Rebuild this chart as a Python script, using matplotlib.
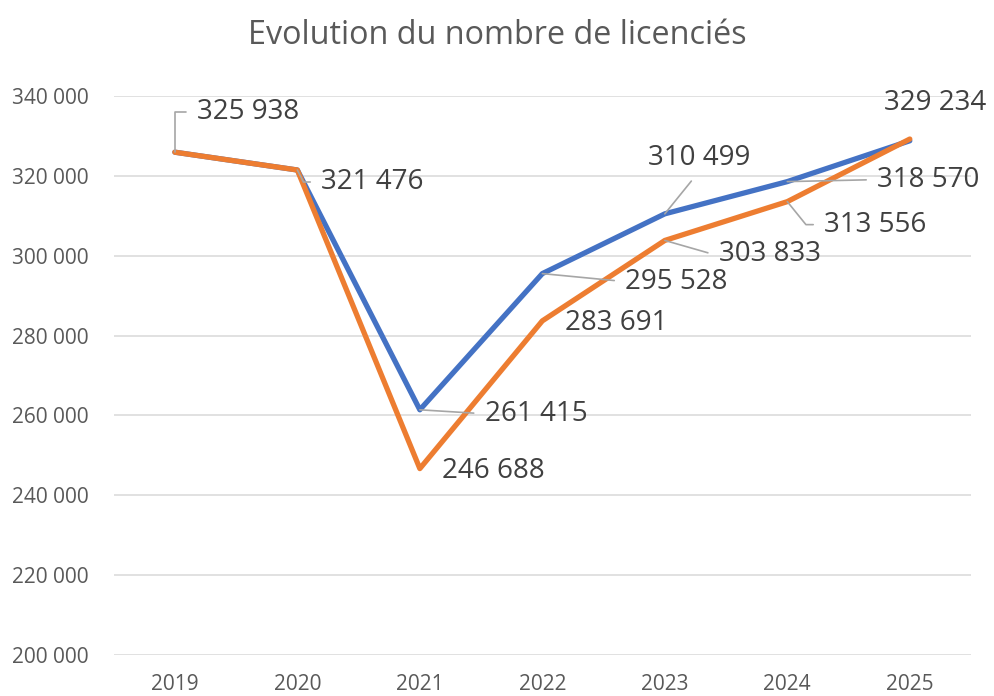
import matplotlib
matplotlib.use("Agg")
import matplotlib.pyplot as plt
from matplotlib.ticker import FuncFormatter

plt.rcParams['font.family'] = ['Open Sans', 'DejaVu Sans']

# data
years = ['2019', '2020', '2021', '2022', '2023', '2024', '2025']
serie_bleue = [325938, 321476, 261415, 295528, 310499, 318570, 328800]
serie_orange = [325938, 321476, 246688, 283691, 303833, 313556, 329234]

BLUE = '#4472C4'
ORANGE = '#ED7D31'
TEXT = '#595959'
LABEL = '#404040'
LEADER = '#A6A6A6'


def fmt_thousands(v, pos=None):
    return f"{int(round(v)):,}".replace(",", " ")


fig = plt.figure(figsize=(9.94, 6.96), dpi=100)
ax = fig.add_axes([0.1143, 0.0589, 0.8626, 0.8031])

x = range(len(years))
ax.plot(x, serie_bleue, color=BLUE, lw=3.8, solid_joinstyle='round', solid_capstyle='round', zorder=3)
ax.plot(x, serie_orange, color=ORANGE, lw=3.8, solid_joinstyle='round', solid_capstyle='round', zorder=4)

ax.set_xlim(-0.5, len(years) - 0.5)
ax.set_ylim(200000, 340000)
ax.set_yticks(range(200000, 340001, 20000))
ax.yaxis.set_major_formatter(FuncFormatter(fmt_thousands))
ax.set_xticks(list(x))
ax.set_xticklabels(years)
ax.grid(axis='y', color='#D9D9D9', lw=1.1)
ax.set_axisbelow(True)
for s in ax.spines.values():
    s.set_visible(False)
ax.tick_params(axis='y', length=0, pad=18, labelsize=15, labelcolor=TEXT)
ax.tick_params(axis='x', length=0, pad=14, labelsize=15, labelcolor=TEXT)

fig.suptitle("Evolution du nombre de licenciés", y=0.973, fontsize=23.3, color=TEXT)

# data labels: (series, index, offset px, ha, leader style)
labels = [
    (serie_orange, 0, (22, 40), 'left', 'angle,angleA=0,angleB=90'),
    (serie_orange, 1, (24, -12), 'left', 'angle,angleA=0,angleB=-63'),
    (serie_bleue, 2, (65, -4), 'left', 'arc3'),
    (serie_orange, 2, (22, -2), 'left', None),
    (serie_bleue, 3, (83, -8), 'left', 'arc3'),
    (serie_orange, 3, (23, -2), 'left', None),
    (serie_bleue, 4, (34, 56), 'center', 'arc3'),
    (serie_orange, 4, (54, -14), 'left', 'angle,angleA=0,angleB=-16'),
    (serie_bleue, 5, (90, 2), 'left', 'arc3'),
    (serie_orange, 5, (37, -23), 'left', 'angle,angleA=0,angleB=-51'),
    (serie_orange, 6, (25, 36), 'center', None),
]

for serie, i, off, ha, style in labels:
    arrow = None
    if style is not None:
        relpos = (0.5, 0.0) if ha == 'center' else (0.0, 0.5)
        arrow = dict(arrowstyle='-', color=LEADER, lw=1.2, shrinkA=6, shrinkB=0,
                     connectionstyle=style, relpos=relpos)
    ax.annotate(fmt_thousands(serie[i]), xy=(i, serie[i]), xytext=off,
                textcoords='offset pixels', ha=ha, va='center',
                fontsize=20, color=LABEL, arrowprops=arrow, zorder=5)

fig.savefig("out.png", dpi=100)
